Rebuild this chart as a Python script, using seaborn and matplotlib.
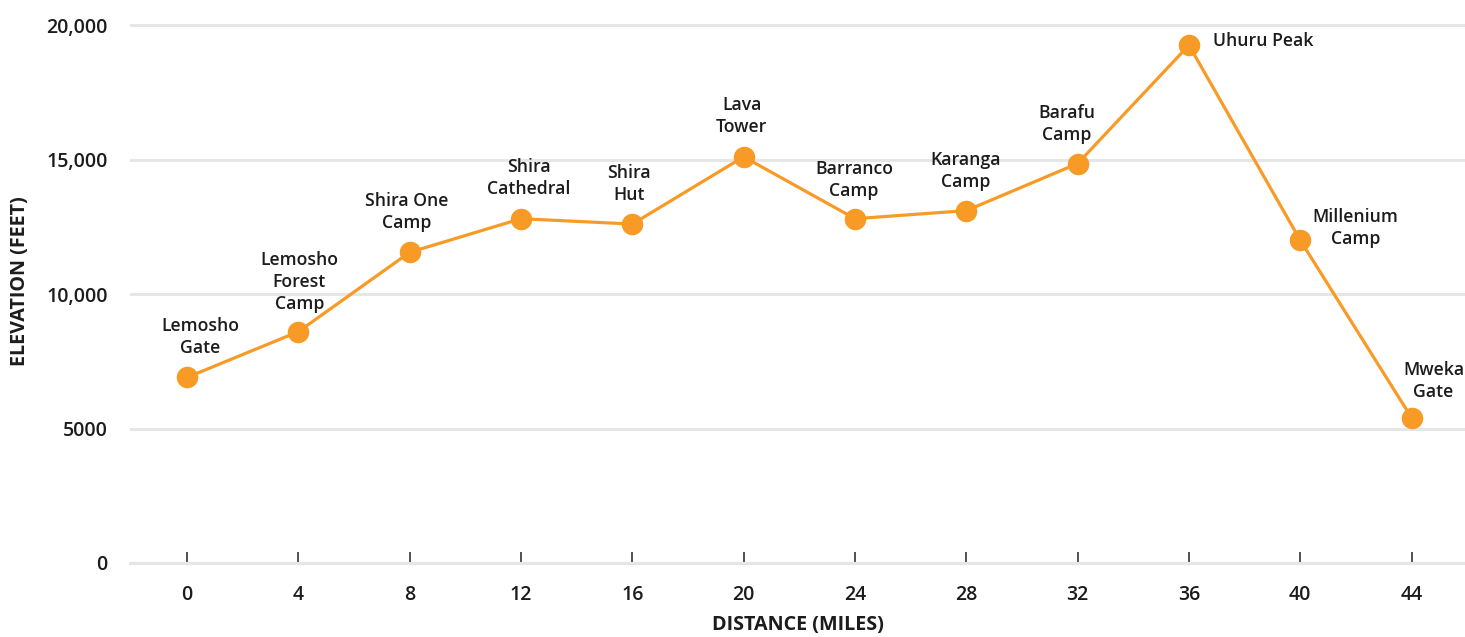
import matplotlib
matplotlib.use("Agg")
import matplotlib.pyplot as plt
import seaborn as sns
import pandas as pd

# ---- data ----
distance = [0, 4, 8, 12, 16, 20, 24, 28, 32, 36, 40, 44]
elevation = [6900, 8600, 11550, 12800, 12600, 15100, 12800, 13100, 14850, 19250, 12000, 5400]
camps = ["Lemosho\nGate", "Lemosho\nForest\nCamp", "Shira One\nCamp", "Shira\nCathedral",
         "Shira\nHut", "Lava\nTower", "Barranco\nCamp", "Karanga\nCamp", "Barafu\nCamp",
         "Uhuru Peak", "Millenium\nCamp", "Mweka\nGate"]
y_ticks = [0, 5000, 10000, 15000, 20000]
y_tick_labels = ["0", "5000", "10,000", "15,000", "20,000"]

# label offsets in pixels (dx, dy up) relative to the point, and horizontal alignment
label_offsets = [(13, 40, "center"), (1, 50, "center"), (-3, 40, "center"), (8, 41, "center"),
                 (-3, 40, "center"), (-2, 41, "center"), (-1, 39, "center"), (-1, 40, "center"),
                 (-11, 40, "center"), (24, 4, "left"), (55, 12, "center"), (22, 37, "center")]

df = pd.DataFrame({"distance": distance, "elevation": elevation})

sns.set_theme(style="white")
plt.rcParams["font.family"] = ["Open Sans", "DejaVu Sans"]

W, H = 1465, 637
fig = plt.figure(figsize=(W / 100, H / 100), dpi=100)
ax = fig.add_axes([130 / W, 74 / H, 1335 / W, 563 / H])

orange = "#F89B26"
text_col = "#1c1c1c"

sns.lineplot(data=df, x="distance", y="elevation", ax=ax, color=orange, linewidth=2.3,
             marker="o", markersize=15.5, markeredgewidth=0, zorder=3)

ax.set_xlim(-2.05, 45.92)
ax.set_ylim(0, 20930)

ax.set_yticks(y_ticks)
ax.set_yticklabels(y_tick_labels)
ax.set_xticks(distance)
ax.set_xticklabels([str(d) for d in distance])

ax.yaxis.grid(True, color="#e6e6e6", linewidth=2.2)
ax.xaxis.grid(False)
ax.set_axisbelow(True)
for s in ["top", "right", "left"]:
    ax.spines[s].set_visible(False)
ax.spines["bottom"].set_color("#e6e6e6")
ax.spines["bottom"].set_linewidth(2.2)

ax.tick_params(axis="x", direction="in", length=8, width=1.2, color="#333333", pad=16,
               labelsize=14, labelcolor=text_col, bottom=True)
ax.tick_params(axis="y", length=0, pad=16, labelsize=14, labelcolor=text_col)
for lab in ax.get_xticklabels() + ax.get_yticklabels():
    lab.set_fontweight("semibold")

ax.set_xlabel("DISTANCE (MILES)", fontsize=14.2, fontweight="bold", color=text_col, labelpad=7)
ax.set_ylabel("ELEVATION (FEET)", fontsize=14.2, fontweight="bold", color=text_col, labelpad=12)

for d, e, name, (dx, dy, ha) in zip(distance, elevation, camps, label_offsets):
    ax.annotate(name, xy=(d, e), xytext=(dx * 0.72, dy * 0.72), textcoords="offset points",
                ha=ha, va="center", multialignment="center", fontsize=12.7,
                fontweight="semibold", color=text_col, linespacing=1.28, zorder=4)

fig.savefig("out.png", dpi=100)
